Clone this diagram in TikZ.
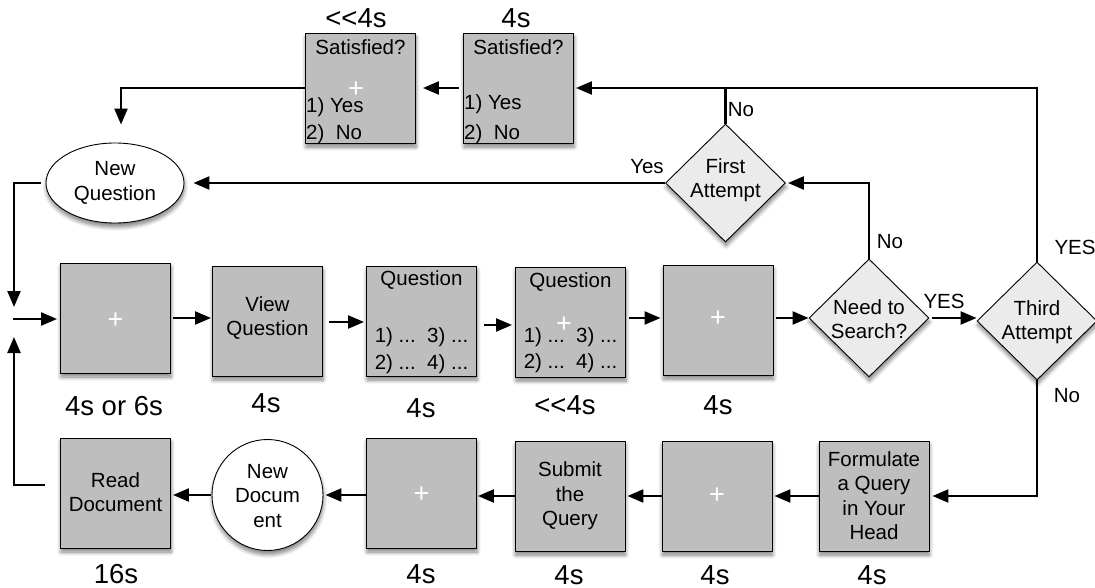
\documentclass[tikz,border=0pt]{standalone}
\usepackage{fontspec}
\setmainfont{Liberation Sans}
\usetikzlibrary{arrows.meta,shapes.geometric,calc,shadows.blur}
\definecolor{boxgray}{RGB}{190,190,190}
\definecolor{diagray}{RGB}{235,235,235}
\begin{document}
\begin{tikzpicture}[x=1pt,y=-1pt,
  shad/.style={blur shadow={shadow xshift=0.5pt,shadow yshift=-4pt,shadow blur radius=4pt,shadow blur steps=6,shadow opacity=50}},
  box/.style={draw=black,line width=0.9pt,fill=boxgray,minimum width=110pt,minimum height=110pt,inner sep=0pt,shad},
  dia/.style={diamond,draw=black,line width=0.9pt,fill=diagray,minimum width=120pt,minimum height=118pt,inner sep=0pt,shad},
  oval/.style={ellipse,draw=black,line width=0.9pt,fill=white,inner sep=0pt,shad},
  txt/.style={inner sep=0pt,align=center,font=\fontsize{20.5}{24.5}\selectfont},
  ltxt/.style={inner sep=0pt,anchor=west,font=\fontsize{20.5}{24.5}\selectfont},
  lab/.style={inner sep=0pt,font=\fontsize{27.5}{30}\selectfont},
  plus/.style={inner sep=0pt,text=white,font=\fontsize{27}{28}\selectfont},
  ln/.style={line width=2.3pt},
  arr/.style={line width=2.3pt,-{Triangle[length=16pt,width=13pt]}},
]
\useasboundingbox (0,0) rectangle (1095,588);

% ---- top row
\node[box] (b1) at (360.5,88) {};
\node[box] (b2) at (518.5,88) {};
\node[lab] (l1) at (356,18) {{<}{<}4s};
\node[lab] (l2) at (516,18) {4s};
\node[txt] (b1t) at (360.5,47) {Satisfied?};
\node[ltxt] (b1y) at (306,107) {1) Yes};
\node[ltxt] (b1n) at (306,134) {2)\ \ No};
\node[plus] (b1p) at (356,90) {+};
\node[txt] (b2t) at (518.5,47) {Satisfied?};
\node[ltxt] (b2y) at (464,104) {1) Yes};
\node[ltxt] (b2n) at (464,134) {2)\ \ No};

\node[oval,minimum width=138pt,minimum height=80pt] (nq) at (115,183) {};
\node[txt] (nqt) at (115,183) {New\\Question};

\node[dia] (fa) at (725.5,183) {};
\node[txt] (fat) at (725.5,180) {First\\Attempt};

% ---- middle row
\node[box] (A) at (115.5,318) {};
\node[plus] (Ap) at (115.5,321) {+};
\node[box] (vq) at (267.5,321) {};
\node[txt] (vqt) at (267.5,318) {View\\Question};
\node[box] (q1) at (421.5,321) {};
\node[txt] (q1t) at (421.5,280) {Question};
\node[txt] (q1a) at (421.5,337) {1) ...\ \ 3) ...};
\node[txt] (q1b) at (421.5,364) {2) ...\ \ 4) ...};
\node[box] (q2) at (570.5,322) {};
\node[txt] (q2t) at (570.5,282) {Question};
\node[txt] (q2a) at (570.5,337) {1) ...\ \ 3) ...};
\node[txt] (q2b) at (570.5,363) {2) ...\ \ 4) ...};
\node[plus] (q2p) at (564,325) {+};
\node[box] (p1) at (718,320) {};
\node[plus] (p1p) at (718,319) {+};
\node[dia] (ns) at (869,318) {};
\node[txt] (nst) at (869,319) {Need to\\Search?};
\node[dia] (ta) at (1037,321) {};
\node[txt] (tat) at (1037,322) {Third\\Attempt};

\node[lab] (lA) at (114,406) {4s or 6s};
\node[lab] (lvq) at (266,403) {4s};
\node[lab] (lq1) at (421,408) {4s};
\node[lab] (lq2) at (565,405) {{<}{<}4s};
\node[lab] (lp1) at (718,405) {4s};

% ---- bottom row
\node[box] (rd) at (115.5,493) {};
\node[txt] (rdt) at (115.5,492) {Read\\Document};
\node[oval,circle,minimum size=111pt] (nd) at (267.5,495) {};
\node[txt] (ndt) at (267.5,496) {New\\Docum\\ent};
\node[box] (p2) at (421.5,493) {};
\node[plus] (p2p) at (421.5,495) {+};
\node[box] (sq) at (570,496) {};
\node[txt] (sqt) at (570,496) {Submit\\the\\Query};
\node[box] (p3) at (717,496) {};
\node[plus] (p3p) at (717,496) {+};
\node[box] (fq) at (874,496) {};
\node[txt] (fqt) at (874,495.5) {Formulate\\a Query\\in Your\\Head};

\node[lab] (lrd) at (116,574) {16s};
\node[lab] (lp2) at (421,574) {4s};
\node[lab] (lsq) at (569,575) {4s};
\node[lab] (lp3) at (715,575) {4s};
\node[lab] (lfq) at (872,575) {4s};

% ---- small labels
\node[txt] (no1) at (741,110) {No};
\node[txt] (yes1) at (647,167) {Yes};
\node[txt] (no2) at (890,242) {No};
\node[txt] (yes2) at (1075,247) {YES};
\node[txt] (yes3) at (944,301) {YES};
\node[txt] (no3) at (1067,396) {No};

% ---- coordinates for the left junction
\coordinate (jtop) at (14,307);
\coordinate (jbot) at (14,337);
\coordinate (jl) at (13,319);

% ---- connectors
\draw[arr,shorten <=4pt,shorten >=7pt] (b2.west) -- (b1.east);
\draw[arr,shorten >=18pt] (b1.west) -| ([xshift=6pt]nq.north);
\draw[arr,shorten >=2pt] (ta.north) |- (b2.east);
\draw[ln] (fa.north) -- (fa.north |- b2.east);
\draw[arr,shorten >=2pt] (ns.north) |- (fa.east);
\draw[arr,shorten >=9pt] (fa.west) -- (nq.east);
\draw[arr] ([xshift=-5pt]nq.west) -| (jtop);
\draw[arr,shorten >=3pt] (jl) -- (jl -| A.west);
\draw[arr] ($(rd.west)+(-15,-8)$) -| (jbot);

\draw[arr,shorten <=2pt,shorten >=1pt] (A.east) -- (A.east -| vq.west);
\draw[arr,shorten <=6pt,shorten >=2pt] ([yshift=-1pt]vq.east) -- ([yshift=-1pt]vq.east -| q1.west);
\draw[arr,shorten <=7pt,shorten >=3pt] ([yshift=-4pt]q1.east) -- ([yshift=-4pt]q1.east -| q2.west);
\draw[arr,shorten <=3pt,shorten >=2pt] ([yshift=4pt]q2.east) -- ([yshift=4pt]q2.east -| p1.west);
\draw[arr,shorten <=3pt] ([yshift=2pt]p1.east) -- (ns.west);
\draw[arr,shorten <=3pt] (ns.east) -- (ns.east -| ta.west);

\draw[arr,shorten >=3pt] (ta.south) |- (fq.east);
\draw[arr,shorten >=2pt] (fq.west) -- (fq.west -| p3.east);
\draw[arr,shorten >=2pt] (p3.west) -- (p3.west -| sq.east);
\draw[arr,shorten >=1pt] (sq.west) -- (sq.west -| p2.east);
\draw[arr,shorten >=2pt] ([yshift=-2pt]p2.west) -- (nd.east);
\draw[arr,shorten <=1pt,shorten >=2pt] (nd.west) -- (nd.west -| rd.east);
\end{tikzpicture}
\end{document}
